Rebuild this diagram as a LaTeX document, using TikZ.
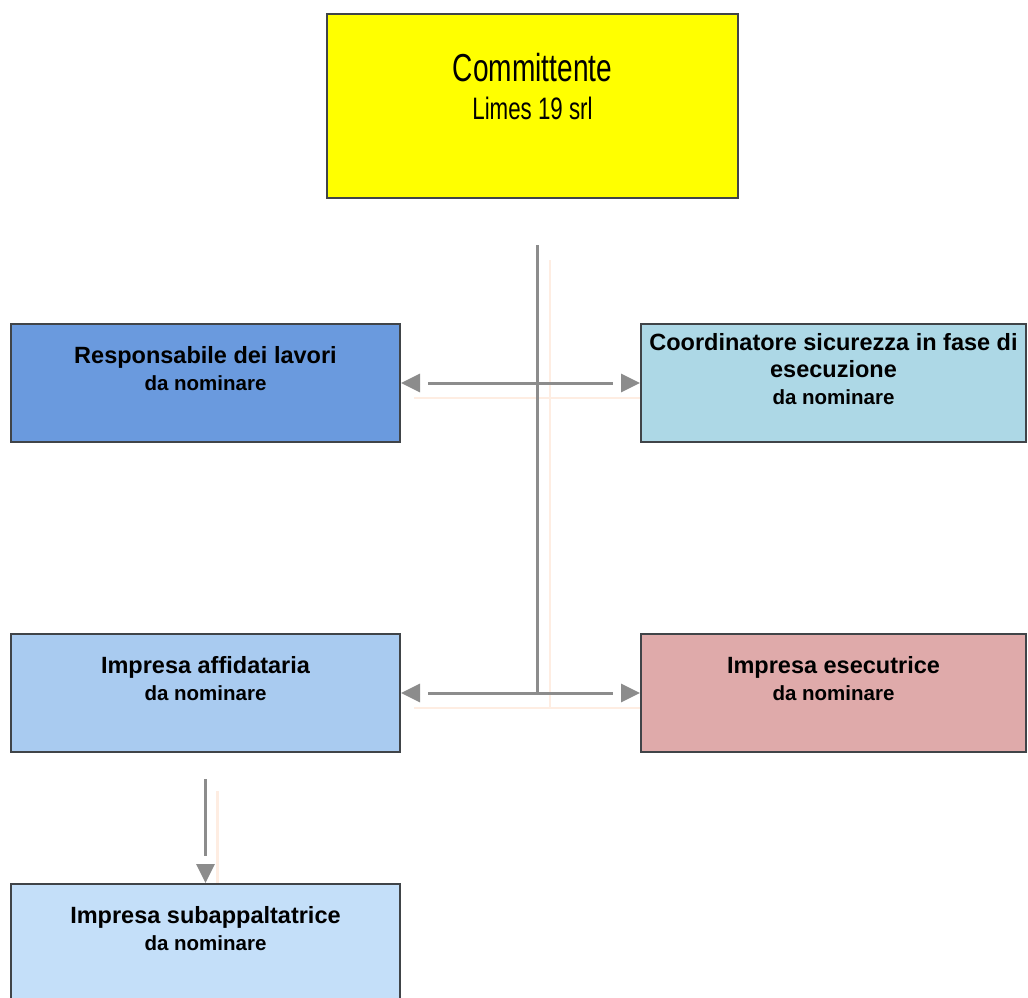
\documentclass[tikz,border=0pt]{standalone}
\usepackage{fontspec}
\setmainfont{Liberation Sans}
\newfontfamily\narrowfont[FakeStretch=0.72]{Liberation Sans}
\usetikzlibrary{arrows.meta,calc,backgrounds}
\definecolor{clientyellow}{RGB}{255,255,0}
\definecolor{boxline}{HTML}{404448}
\definecolor{linkgray}{HTML}{8C8C8C}
\definecolor{shadowpeach}{HTML}{FEEDE2}
\definecolor{rlblue}{HTML}{6A9ADE}
\definecolor{cseblue}{HTML}{ADD8E6}
\definecolor{iablue}{HTML}{A9CBF0}
\definecolor{iered}{HTML}{DFAAAA}
\definecolor{isblue}{HTML}{C4DFF9}

\newcommand{\boxtitle}[1]{{\fontsize{23.5}{28}\selectfont #1}}

\begin{document}
\begin{tikzpicture}[x=1pt,y=-1pt,
    box/.style={draw=boxline, line width=2pt, minimum width=389pt, minimum height=118pt, inner sep=0pt},
    boxtext/.style={align=center, font=\fontsize{20.5}{27}\selectfont\bfseries},
    link/.style={draw=linkgray, line width=3pt},
    gaplink/.style={link, shorten <=27pt, shorten >=27pt},
    tiphead/.style={link, -{Triangle[length=19pt,width=18pt]}},
    shadow/.style={draw=shadowpeach, line width=2.5pt}
  ]
    \useasboundingbox (0,0) rectangle (1028,998);

    \node[box, fill=clientyellow, minimum width=411pt, minimum height=184pt,
          label={[yshift=19pt, align=center, font=\narrowfont\fontsize{31}{38}\selectfont]center:{{\fontsize{39}{38}\selectfont Committente}\\Limes 19 srl}}]
          (client) at (532.5,106) {};

    \node[box, fill=rlblue, label={[boxtext, yshift=14pt]center:{\boxtitle{Responsabile dei lavori}\\da nominare}}]
          (rl) at (205.5,383) {};
    \node[box, fill=cseblue, minimum width=385pt, label={[boxtext, yshift=14pt]center:{\boxtitle{Coordinatore sicurezza in fase di}\\\boxtitle{esecuzione}\\da nominare}}]
          (cse) at (833.5,383) {};
    \node[box, fill=iablue, label={[boxtext, yshift=14pt]center:{\boxtitle{Impresa affidataria}\\da nominare}}]
          (ia) at (205.5,693) {};
    \node[box, fill=iered, minimum width=385pt, label={[boxtext, yshift=14pt]center:{\boxtitle{Impresa esecutrice}\\da nominare}}]
          (ie) at (833.5,693) {};
    \node[box, fill=isblue, label={[boxtext, yshift=14pt]center:{\boxtitle{Impresa subappaltatrice}\\da nominare}}]
          (is) at (205.5,943) {};

    \coordinate (trunktop) at (537,245);
    \coordinate (trunkfoot) at (trunktop |- ia.east);
    \coordinate (subtop) at ($(ia.south)+(0,26)$);
    \coordinate (rlend) at (rl.east -| cse.west);
    \coordinate (iaend) at (ia.east -| ie.west);

    % faint shadows under the connectors
    \begin{scope}[on background layer]
      \draw[shadow] ($(trunktop)+(13,15)$) -- ($(trunkfoot)+(13,15)$);
      \draw[shadow] ($(rl.east)+(13,15)$) -- ($(rlend)+(13,15)$);
      \draw[shadow] ($(ia.east)+(13,15)$) -- ($(iaend)+(13,15)$);
      \draw[shadow] ($(subtop)+(12,12)$) -- ($(is.north)+(12,0)$);
    \end{scope}

    \draw[link] (trunktop) -- (trunkfoot);
    \draw[gaplink] (rl.east) -- (rlend);
    \draw[gaplink] (ia.east) -- (iaend);
    \draw[gaplink, shorten <=0pt] (subtop) -- (is.north);

    % arrow heads, set off from the lines
    \draw[tiphead] ($(rl.east)!19pt!(rlend)$) -- (rl.east);
    \draw[tiphead] ($(rlend)!19pt!(rl.east)$) -- (rlend);
    \draw[tiphead] ($(ia.east)!19pt!(iaend)$) -- (ia.east);
    \draw[tiphead] ($(iaend)!19pt!(ia.east)$) -- (iaend);
    \draw[tiphead] ($(is.north)!19pt!(subtop)$) -- (is.north);
\end{tikzpicture}
\end{document}
